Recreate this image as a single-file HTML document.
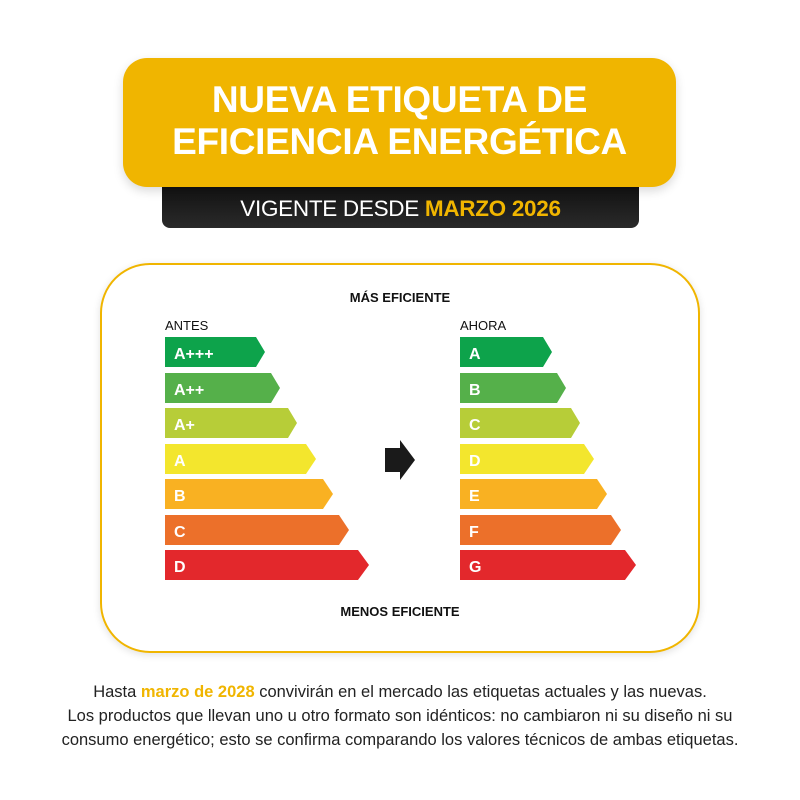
<!DOCTYPE html>
<html><head><meta charset="utf-8"><style>
html,body{margin:0;padding:0;background:#fff;width:800px;height:800px;overflow:hidden;font-family:"Liberation Sans",Arial,sans-serif}
.title{position:absolute;left:123px;top:58px;width:553px;height:129px;background:#f0b500;border-radius:24px;box-shadow:0 4px 10px rgba(0,0,0,0.15);color:#fff;font-weight:bold;font-size:37px;line-height:42px;text-align:center;box-sizing:border-box;padding-top:21px;z-index:2;letter-spacing:-0.3px}
.sub{position:absolute;left:162px;top:185px;width:477px;height:43px;background:linear-gradient(#111,#2a2a2a);border-radius:0 0 8px 8px;color:#fff;font-size:22.5px;line-height:47px;text-align:center;z-index:1;letter-spacing:-0.3px}
.sub b{color:#f0b500}
.card{position:absolute;left:100px;top:263px;width:600px;height:390px;border:2px solid #f0b500;border-radius:50px;box-sizing:border-box;box-shadow:0 2px 8px rgba(0,0,0,0.12)}
.foot{position:absolute;left:0;top:680px;width:800px;text-align:center;font-size:16.5px;line-height:24px;color:#222}
.foot b{color:#f0b500}
</style></head><body>
<div class="title">NUEVA ETIQUETA DE<br>EFICIENCIA ENERGÉTICA</div>
<div class="sub">VIGENTE DESDE <b>MARZO 2026</b></div>
<div class="card"></div>
<svg style="position:absolute;left:0;top:0" width="800" height="800" font-family="Liberation Sans, Arial, sans-serif">
<text x="400" y="302" text-anchor="middle" font-size="13" font-weight="bold" fill="#111">MÁS EFICIENTE</text>
<text x="400" y="616" text-anchor="middle" font-size="13" font-weight="bold" fill="#111">MENOS EFICIENTE</text>
<text x="165" y="330" font-size="13" fill="#111">ANTES</text>
<text x="460" y="330" font-size="13" fill="#111">AHORA</text>
<g font-size="16" font-weight="bold" fill="#fff">
<polygon points="165,337 256,337 265,352 256,367 165,367" fill="#0da34b"/><text x="174" y="359">A+++</text>
<polygon points="165,373 271,373 280,388 271,403 165,403" fill="#55b04a"/><text x="174" y="395">A++</text>
<polygon points="165,408 288,408 297,423 288,438 165,438" fill="#b7cd38"/><text x="174" y="430">A+</text>
<polygon points="165,444 306,444 316,459 306,474 165,474" fill="#f3e62d"/><text x="174" y="466">A</text>
<polygon points="165,479 323,479 333,494 323,509 165,509" fill="#f9b122"/><text x="174" y="501">B</text>
<polygon points="165,515 339,515 349,530 339,545 165,545" fill="#ec702a"/><text x="174" y="537">C</text>
<polygon points="165,550 358,550 369,565 358,580 165,580" fill="#e3282c"/><text x="174" y="572">D</text>

<polygon points="460,337 543,337 552,352 543,367 460,367" fill="#0da34b"/><text x="469" y="359">A</text>
<polygon points="460,373 557,373 566,388 557,403 460,403" fill="#55b04a"/><text x="469" y="395">B</text>
<polygon points="460,408 571,408 580,423 571,438 460,438" fill="#b7cd38"/><text x="469" y="430">C</text>
<polygon points="460,444 584,444 594,459 584,474 460,474" fill="#f3e62d"/><text x="469" y="466">D</text>
<polygon points="460,479 597,479 607,494 597,509 460,509" fill="#f9b122"/><text x="469" y="501">E</text>
<polygon points="460,515 611,515 621,530 611,545 460,545" fill="#ec702a"/><text x="469" y="537">F</text>
<polygon points="460,550 625,550 636,565 625,580 460,580" fill="#e3282c"/><text x="469" y="572">G</text>
</g>
<polygon points="385,448 400,448 400,440 415,460 400,480 400,472 385,472" fill="#1a1a1a"/>
</svg>
<div class="foot">Hasta <b>marzo de 2028</b> convivirán en el mercado las etiquetas actuales y las nuevas.<br>Los productos que llevan uno u otro formato son idénticos: no cambiaron ni su diseño ni su<br>consumo energético; esto se confirma comparando los valores técnicos de ambas etiquetas.</div>
</body></html>
